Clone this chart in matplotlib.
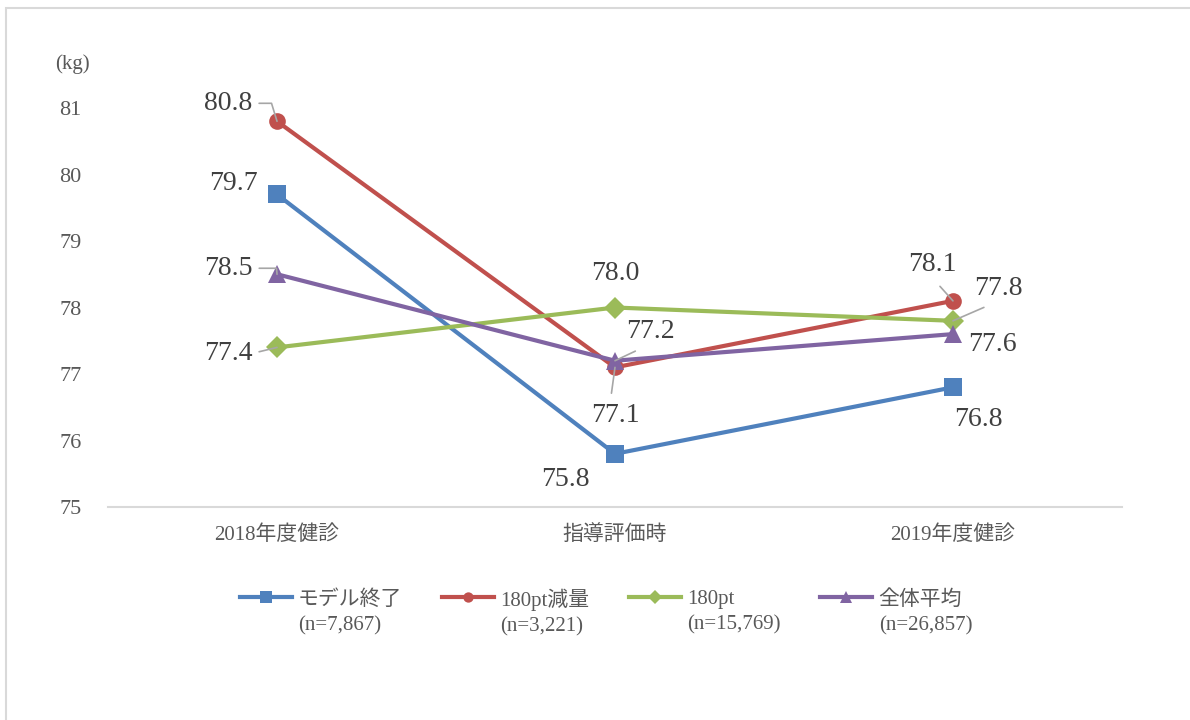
import numpy as np
import matplotlib.pyplot as plt
from matplotlib.patches import Rectangle
from matplotlib.lines import Line2D
from matplotlib.legend_handler import HandlerLine2D

plt.rcParams['font.family'] = ['Liberation Serif', 'Noto Sans CJK JP']

categories = ['2018年度健診', '指導評価時', '2019年度健診']
model_end = [79.7, 75.8, 76.8]
pt180_loss = [80.8, 77.1, 78.1]
pt180 = [77.4, 78.0, 77.8]
overall = [78.5, 77.2, 77.6]
names = ['モデル終了\n(n=7,867)', '180pt減量\n(n=3,221)',
         '180pt\n(n=15,769)', '全体平均\n(n=26,857)']

colors = ['#4f81bd', '#c0504d', '#9bbb59', '#8064a2']
markers = ['s', 'o', 'D', '^']
msizes = [13, 12, 11, 13]
series = [model_end, pt180_loss, pt180, overall]


class TopHandler(HandlerLine2D):
    # put the legend line next to the first line of a two-line label
    def create_artists(self, legend, orig_handle, xdescent, ydescent,
                       width, height, fontsize, trans):
        arts = super().create_artists(legend, orig_handle, xdescent, ydescent,
                                      width, height, fontsize, trans)
        for a in arts:
            a.set_ydata(np.asarray(a.get_ydata()) + fontsize * 0.74)
        return arts


fig = plt.figure(figsize=(11.9, 7.2), dpi=100)
fig.patches.append(Rectangle((0.005, -0.1), 1.2, 1.089, transform=fig.transFigure,
                             fill=False, edgecolor='#d9d9d9', lw=1.5))
ax = fig.add_axes([0.0908, 0.2958, 0.852, 0.5542])

x = list(range(len(categories)))
handles = []
for vals, c, m, ms, n in zip(series, colors, markers, msizes, names):
    h, = ax.plot(x, vals, color=c, lw=3, marker=m, markersize=ms,
                 markeredgewidth=0, label=n, clip_on=False, zorder=3)
    handles.append(h)

ax.set_xlim(-0.5, 2.5)
ax.set_ylim(75, 81)
ax.set_yticks([75, 76, 77, 78, 79, 80, 81])
ax.set_xticks(x)
ax.set_xticklabels(categories)
for s in ['top', 'right', 'left']:
    ax.spines[s].set_visible(False)
ax.spines['bottom'].set_color('#d9d9d9')
ax.spines['bottom'].set_linewidth(1.5)
ax.tick_params(axis='both', length=0, labelsize=15, colors='#595959')
ax.tick_params(axis='y', labelsize=16, pad=19)
ax.tick_params(axis='x', pad=13)
ax.text(-0.0355, 1.11, '(kg)', transform=ax.transAxes, fontsize=15,
        color='#595959', ha='center', va='center')

lc = '#a6a6a6'
tc = '#404040'
fs = 20

def lab(i, v, dx, dy, conn=None, relpos=(0.5, 0.5), shrink=0):
    ap = None
    if conn is not None:
        ap = dict(arrowstyle='-', color=lc, lw=1.2, shrinkA=shrink, shrinkB=0,
                  relpos=relpos, connectionstyle=conn)
    ax.annotate(f'{v:.1f}', (i, v), xytext=(dx, dy), textcoords='offset pixels',
                ha='center', va='center', fontsize=fs, color=tc, arrowprops=ap,
                annotation_clip=False)

lab(0, pt180_loss[0], -49, 18, 'angle,angleA=0,angleB=107,rad=0', (1, 0.5), 3)
lab(0, model_end[0], -44, 11)
lab(0, overall[0], -49, 6, 'angle,angleA=0,angleB=95,rad=0', (1, 0.5), 3)
lab(0, pt180[0], -49, -6, 'arc3', (1, 0.5), 3)
lab(1, model_end[1], -50, -26)
lab(1, pt180[1], 0, 34)
lab(1, overall[1], 35, 29, 'arc3', (0.5, 0), 7)
lab(1, pt180_loss[1], 0, -48, 'arc3', (0.4, 1), 5)
lab(2, model_end[2], 25, -32)
lab(2, pt180_loss[2], -21, 36, 'arc3', (0.5, 0), 6)
lab(2, pt180[2], 45, 32, 'arc3', (0.5, 0), 6)
lab(2, overall[2], 39, -10)

leg = ax.legend(handles=handles, loc='upper center', bbox_to_anchor=(0.491, -0.157),
                ncol=4, frameon=False, fontsize=15, handlelength=2.5,
                columnspacing=1.9, handletextpad=0.3, labelcolor='#595959',
                markerscale=0.62, handler_map={Line2D: TopHandler()})
for t in leg.get_texts():
    t.set_multialignment('left')
    t.set_linespacing(1.45)

plt.savefig('out.png', dpi=100)
